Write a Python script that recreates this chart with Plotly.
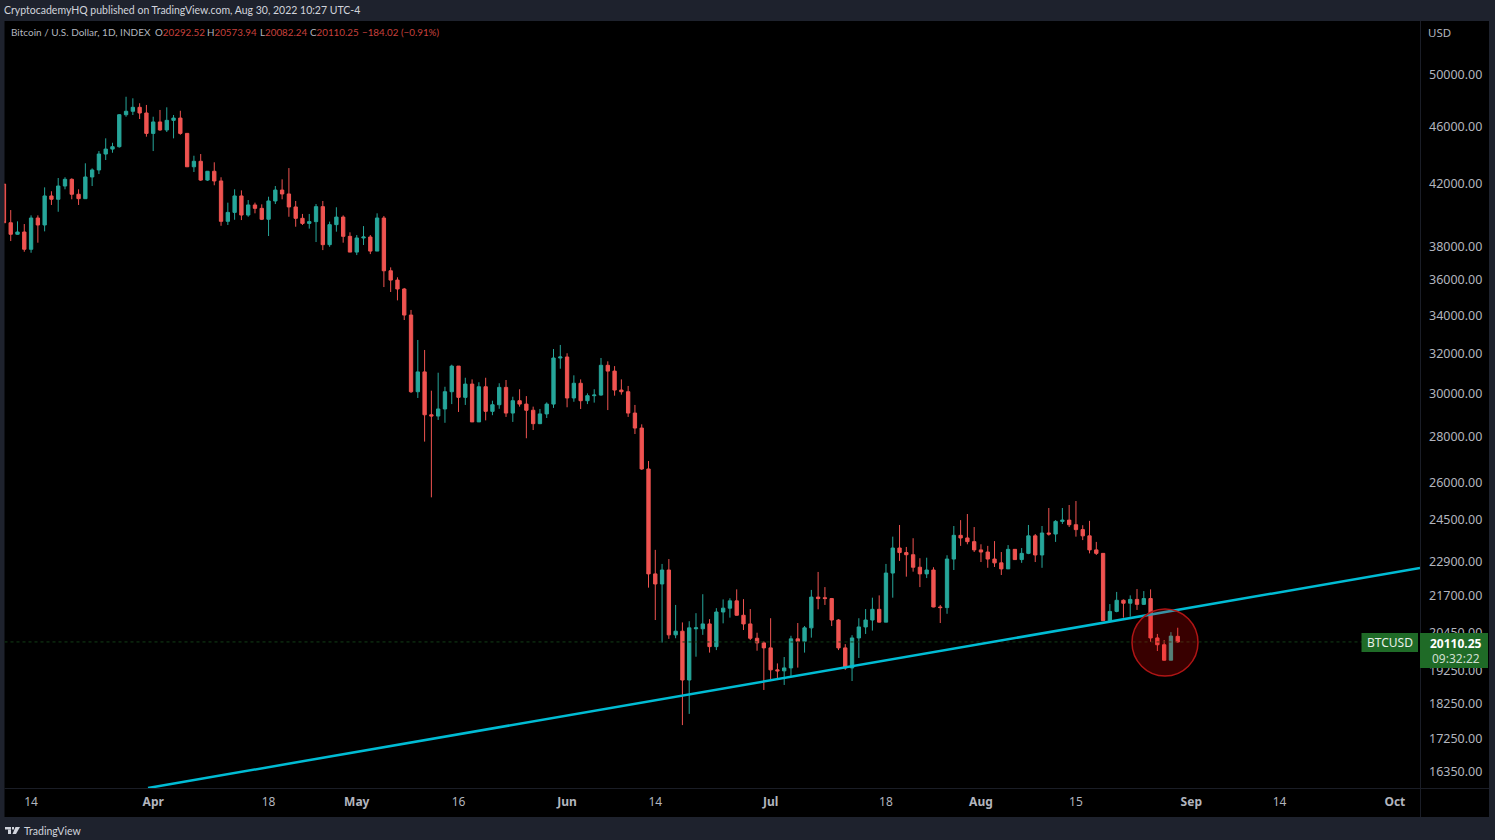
from datetime import date, timedelta
import plotly.graph_objects as go


def px(x):
    return x / 1495


def py(y):
    return 1 - y / 840


def box(x0, y0, x1, y1, color, layer='above'):
    return dict(type='rect', xref='paper', yref='paper', x0=px(x0), x1=px(x1), y0=py(y0), y1=py(y1),
                fillcolor=color, line_width=0, layer=layer)


def label(x, y, text, size=11, color='#b2b5be', xanchor='left', family='Noto Sans'):
    return dict(xref='paper', yref='paper', x=px(x), y=py(y), text=text, showarrow=False,
                xanchor=xanchor, yanchor='middle', font_size=size, font_color=color, font_family=family)


def get_btc_fig():
    closes = [39390,38670,38810,37750,39690,39250,41120,40900,41780,42230,41230,40940,42390,42870,43980,44330,44500,46840,47100,47400,46970,45460,46300,45710,46420,46590,45460,43090,43470,42180,42780,42120,39480,40050,41120,39880,40530,40310,39610,40790,41510,41250,40400,39670,39350,39460,40420,38030,39270,39750,38540,37580,38440,38500,37640,39690,36470,35930,35420,33970,30040,31010,28950,28890,29220,30040,31300,29770,30410,28620,30280,29110,29420,30250,29030,29610,29450,29160,28540,28990,29450,31710,31760,29740,30450,29610,29850,29880,31340,31050,30120,30040,29030,28340,26540,22430,22070,22570,20340,20460,18920,20570,20570,20700,19960,21100,21230,21480,20990,20700,20230,20080,19920,19230,19200,19290,20210,20130,20570,21610,21560,21560,20830,19920,19290,20240,20600,20830,21190,20760,22460,23380,23210,23130,22670,22430,22570,21270,21250,22970,23860,23760,23620,23310,23230,22970,22830,22610,23330,22950,23180,23840,23120,23950,23910,24400,24450,24270,24080,23840,23310,23180,20810,21120,21500,21400,21530,21360,21560,20240,20020,19530,20300,20110.25]
    highs = [41910,40200,39480,39310,39860,39860,41690,41430,42320,42370,42300,41560,43330,42980,44190,45100,44780,46890,48210,48090,47710,47580,46690,47200,47400,46820,47140,45490,43860,43980,42800,43400,42370,40680,41560,41490,40850,40680,40570,41070,41780,42230,43000,40790,39950,39950,40590,40790,39460,40380,39860,38790,38620,39180,38620,39990,39820,36670,36090,35480,34250,32640,32120,30090,30970,30280,31370,31300,30720,30640,30500,30720,29610,30450,30610,29800,30160,29830,29330,29220,29530,32170,32380,31950,30840,30640,29960,30160,31710,31540,31300,30640,30320,29410,28510,26880,23310,22790,22970,21340,20750,20790,21060,21710,20860,21230,21530,21570,21880,21540,21200,20410,20130,20890,19430,19630,20310,20730,20630,21860,22500,21960,21580,20860,20040,20330,20890,21200,21590,21670,22790,23810,24260,23420,23750,23000,23020,22670,21340,23110,24220,24450,24690,24180,23520,23460,23640,23230,23490,23340,23380,24260,23910,24220,24930,24450,24930,25050,25210,24250,24420,23610,23190,21370,21790,21530,21670,21890,21820,21880,20370,20170,20430,20573.94]
    lows = [39390,38250,38640,37600,37540,38150,38850,40530,40090,41560,40900,40530,40920,41780,42590,43560,44070,44430,46690,46820,46520,45220,44190,45650,45560,45100,45360,43070,42730,42120,42120,41830,39200,39250,39580,39560,39770,39990,39560,38560,40590,40900,39770,39140,39250,39020,38190,37700,37900,38830,38150,37580,37400,38010,37460,37640,35530,35250,34780,33700,29980,29740,27730,25360,28710,28580,29450,29080,29410,28620,28620,28690,28930,29230,28850,28620,29330,27880,28250,28520,28800,29270,31170,29300,29560,29220,29450,29520,29850,29170,29850,29900,28850,28070,26500,21940,20830,20090,20210,20230,17600,17920,19640,20340,19770,19850,20720,20910,20980,20500,20170,19830,18620,18940,18970,18770,19020,19300,19770,20250,21190,21340,20630,19850,19230,18890,19600,20370,20480,20750,20760,21590,22900,22330,22510,21960,22280,21260,20730,21040,22570,23460,23520,23230,22860,22650,22680,22390,22610,22940,22830,23150,22860,22650,23850,23610,24300,24180,23810,23680,23180,23120,20800,20770,21090,20910,20940,21170,21340,20110,19820,19520,19530,20082.24]
    opens = [41910] + closes[:-1]
    opens[102] = 20540
    opens[103] = 20540
    opens[121] = 21590
    opens[173] = 20292.52
    dates = [date(2022, 3, 10) + timedelta(days=i) for i in range(len(closes))]

    x_left = '2022-03-10 02:00'
    x_right = '2022-10-04 17:00'
    price_ticks = [50000, 46000, 42000, 38000, 36000, 34000, 32000, 30000, 28000, 26000,
                   24500, 22900, 21700, 20450, 19250, 18250, 17250, 16350]
    date_ticks = ['2022-03-14', '2022-04-01', '2022-04-18', '2022-05-01', '2022-05-16', '2022-06-01', '2022-06-14',
                  '2022-07-01', '2022-07-18', '2022-08-01', '2022-08-15', '2022-09-01', '2022-09-14', '2022-10-01']
    date_labels = ['14', '<b>Apr</b>', '18', '<b>May</b>', '16', '<b>Jun</b>', '14',
                   '<b>Jul</b>', '18', '<b>Aug</b>', '15', '<b>Sep</b>', '14', '<b>Oct</b>']
    red = '<span style="color:#c8403d">%s</span>'

    fig = go.Figure()
    fig.add_trace(
        go.Scatter(
            x=[x_left, x_right],
            y=[20110.25, 20110.25],
            mode='lines',
            line_color='#123d16',
            line_width=1,
            line_dash='dot',
        )
    )
    fig.add_trace(
        go.Candlestick(
            x=dates,
            open=opens,
            high=highs,
            low=lows,
            close=closes,
            increasing_line_color='#26a69a',
            increasing_fillcolor='#26a69a',
            decreasing_line_color='#ef5350',
            decreasing_fillcolor='#ef5350',
            line_width=1,
            whiskerwidth=0,
        )
    )
    fig.add_trace(
        go.Scatter(
            x=['2022-03-31 05:45', x_right],
            y=[15911, 22643],
            mode='lines',
            line_color='#00bcd4',
            line_width=2.5,
        )
    )

    fig.update_layout(
        width=1495,
        height=840,
        margin=dict(l=0, r=0, t=0, b=0),
        showlegend=False,
        paper_bgcolor='#1e222d',
        plot_bgcolor='#000000',
        font_family='Noto Sans',
        xaxis=dict(
            domain=[px(4.5), px(1420)],
            range=[x_left, x_right],
            rangeslider_visible=False,
            showgrid=False,
            zeroline=False,
            tickmode='array',
            tickvals=date_ticks,
            ticktext=date_labels,
            ticklen=0,
            ticklabelstandoff=5,
            tickfont_size=12,
            tickfont_color='#b2b5be',
        ),
        yaxis=dict(
            domain=[py(788), py(21)],
            type='log',
            range=[4.2017, 4.7359],
            side='right',
            showgrid=False,
            zeroline=False,
            tickmode='array',
            tickvals=price_ticks,
            ticktext=['%.2f' % v for v in price_ticks],
            ticklen=0,
            ticklabelstandoff=8,
            ticklabelshift=1,
            tickfont_size=12.5,
            tickfont_color='#b2b5be',
        ),
        shapes=[
            box(1420, 21, 1489, 817, '#000000', layer='below'),
            box(4.5, 788, 1489, 817, '#000000', layer='below'),
            box(1420, 21, 1421, 817, '#1a1d26'),
            box(4.5, 788, 1489, 789, '#1a1d26'),
            dict(type='circle', xref='paper', yref='paper', x0=px(1132), x1=px(1198), y0=py(676), y1=py(609),
                 fillcolor='rgba(255,0,0,0.22)', line_color='#b01515', line_width=1.5),
            box(1361.5, 633, 1418, 652, '#1f6b27'),
            box(1420, 633, 1488, 668, '#1f6b27'),
            box(5, 827, 11, 829.5, '#d1d4dc'),
            box(8, 829.5, 11, 834, '#d1d4dc'),
            box(12, 827, 14, 829.5, '#d1d4dc'),
            dict(type='path', xref='paper', yref='paper', line_width=0, fillcolor='#d1d4dc',
                 path='M %f %f L %f %f L %f %f L %f %f Z' % (px(15.5), py(827), px(20), py(827), px(16), py(834), px(12.5), py(834))),
        ],
        annotations=[
            label(2, 10, 'CryptocademyHQ published on TradingView.com, Aug 30, 2022 10:27 UTC-4', size=10.5, color='#d1d4dc', family='Lato'),
            label(9, 32, 'Bitcoin / U.S. Dollar, 1D, INDEX', size=10, family='Lato'),
            label(153, 32, 'O' + red % '20292.52', size=9.8, family='Lato'),
            label(205, 32, 'H' + red % '20573.94', size=9.8, family='Lato'),
            label(258, 32, 'L' + red % '20082.24', size=9.8, family='Lato'),
            label(308, 32, 'C' + red % '20110.25', size=9.8, family='Lato'),
            label(360, 32, red % '\u2212184.02 (\u22120.91%)', size=9.8, family='Lato'),
            label(1426, 33, 'USD', size=11.5),
            label(1389.7, 642.5, 'BTCUSD', size=12, color='#e8efe8', xanchor='center'),
            label(1455.5, 643, '<b>20110.25</b>', size=12, color='#ffffff', xanchor='center'),
            label(1455.5, 658, '09:32:22', size=12, color='#d0dfd0', xanchor='center'),
            label(22, 831, 'TradingView', size=10.5, color='#d1d4dc', family='Lato'),
        ],
    )
    return fig


fig = get_btc_fig()
fig.write_html("out.html", config={'displayModeBar': False}, post_script="document.body.style.margin='0'")
